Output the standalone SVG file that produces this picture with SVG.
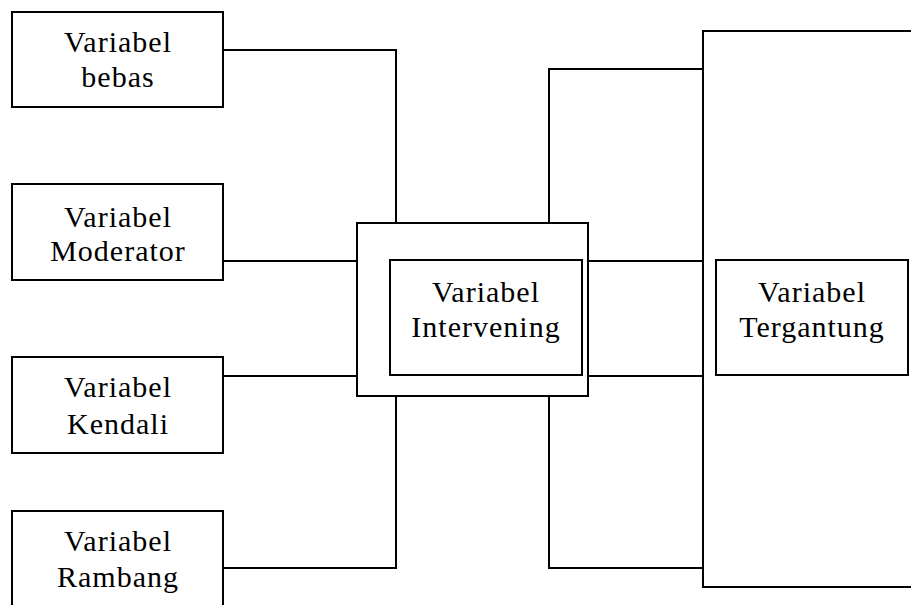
<svg xmlns="http://www.w3.org/2000/svg" width="911" height="605" viewBox="0 0 911 605">
<style>
.box{fill:#fff;stroke:#000;stroke-width:2}
.ln{fill:none;stroke:#000;stroke-width:2}
</style>
<rect width="911" height="605" fill="#fff"/>
<g id="connectors">
<polyline class="ln" points="223,50 396,50 396,223"/>
<line class="ln" x1="223" y1="261" x2="357" y2="261"/>
<line class="ln" x1="223" y1="376" x2="357" y2="376"/>
<polyline class="ln" points="223,568 396,568 396,396"/>
<polyline class="ln" points="549,223 549,69 703,69"/>
<line class="ln" x1="588" y1="261" x2="703" y2="261"/>
<line class="ln" x1="588" y1="376" x2="703" y2="376"/>
<polyline class="ln" points="549,396 549,568 703,568"/>
</g>
<g font-family="'Liberation Serif', serif" font-size="30" letter-spacing="1" text-anchor="middle" fill="#000">
<g id="bebas">
<rect class="box" x="12" y="12" width="211" height="95"/>
<text x="118" y="52">Variabel</text>
<text x="118" y="87">bebas</text>
</g>
<g id="moderator">
<rect class="box" x="12" y="184" width="211" height="96"/>
<text x="118" y="227">Variabel</text>
<text x="118" y="261">Moderator</text>
</g>
<g id="kendali">
<rect class="box" x="12" y="357" width="211" height="96"/>
<text x="118" y="397">Variabel</text>
<text x="118" y="434">Kendali</text>
</g>
<g id="rambang">
<rect class="box" x="12" y="511" width="211" height="110"/>
<text x="118" y="551">Variabel</text>
<text x="118" y="587">Rambang</text>
</g>
<g id="intervening">
<rect class="box" x="357" y="223" width="231" height="173"/>
<rect class="box" x="390" y="260" width="192" height="115"/>
<text x="486" y="302">Variabel</text>
<text x="486" y="337">Intervening</text>
</g>
<g id="tergantung">
<rect class="box" x="703" y="31" width="230" height="556"/>
<rect class="box" x="716" y="260" width="192" height="115"/>
<text x="812" y="302">Variabel</text>
<text x="812" y="337">Tergantung</text>
</g>
</g>
</svg>
